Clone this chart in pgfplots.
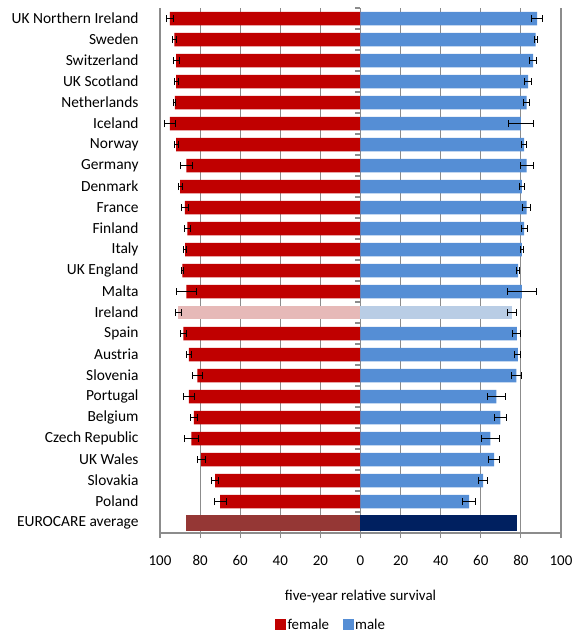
\documentclass[border=0pt]{standalone}
\usepackage{pgfplots}
\pgfplotsset{compat=1.18}
\usepackage{pgfplotstable}
\usepackage{fontspec}
\setmainfont{Carlito}

\definecolor{fem}{HTML}{C00000}
\definecolor{mal}{HTML}{558ED5}
\definecolor{femlight}{HTML}{E6B9B8}
\definecolor{mallight}{HTML}{B9CDE5}
\definecolor{femavg}{HTML}{953735}
\definecolor{malavg}{HTML}{002060}
\definecolor{gridgray}{HTML}{8C8C8C}

% five-year relative survival (%) with half-width of the 95% interval
\pgfplotstableread{
pos female ferr male merr
0  95.1 1.7 88.1 2.8
1  92.8 0.9 87.4 0.8
2  91.9 1.4 86.1 1.7
3  91.9 1.0 83.6 1.7
4  92.6 0.5 82.9 1.5
5  95.1 2.7 80.0 6.2
6  91.9 1.0 81.6 1.2
7  86.8 2.9 82.9 3.3
8  89.9 1.1 80.5 1.4
9  87.6 1.7 82.9 2.0
10 86.3 1.4 81.6 1.5
11 87.5 0.7 80.5 0.8
12 88.8 0.6 78.6 0.8
13 86.8 5.1 80.5 7.2
15 88.3 1.3 78.0 2.0
16 85.6 1.1 78.5 1.5
17 81.3 2.4 77.8 2.7
18 85.6 2.7 67.8 4.3
19 83.1 1.7 69.8 2.8
20 84.4 3.4 64.8 4.3
21 79.5 2.0 66.7 2.7
22 72.5 1.8 61.2 2.2
23 70.0 2.9 54.2 3.2
}\countries

% Ireland, shown in lighter shades
\pgfplotstableread{
pos female ferr male merr
14 90.8 1.3 75.6 2.2
}\ireland

% EUROCARE average
\pgfplotstableread{
pos female male
24 86.8 78.1
}\average

\begin{document}
\begin{tikzpicture}
% page frame around the axis box
\path (-160bp,-99bp) rectangle (414bp,533bp);
\begin{axis}[
  at={(0,0)}, anchor=south west,
  scale only axis,
  width=401bp, height=525bp,
  xmin=-100, xmax=100,
  ymin=-0.5, ymax=24.5,
  y dir=reverse,
  axis x line*=bottom,
  axis y line*=left,
  x axis line style={gridgray, line width=1.2pt},
  y axis line style={gridgray, line width=1.2pt},
  xtick={-100,-80,...,100},
  xticklabels={100,80,60,40,20,0,20,40,60,80,100},
  xtick style={gridgray, line width=1.2pt},
  tick align=outside,
  major tick length=5bp,
  ytick={0,...,24},
  yticklabels={UK Northern Ireland, Sweden, Switzerland, UK Scotland, Netherlands,
    Iceland, Norway, Germany, Denmark, France, Finland, Italy, UK England, Malta,
    Ireland, Spain, Austria, Slovenia, Portugal, Belgium, Czech Republic, UK Wales,
    Slovakia, Poland, EUROCARE average},
  ytick style={draw=none},
  yticklabel style={font=\fontsize{15.5}{17}\selectfont, anchor=east, xshift=-13bp},
  xticklabel style={font=\fontsize{15}{17}\selectfont, yshift=-14bp},
  /pgf/number format/assume math mode=true,
  xlabel={five-year relative survival},
  xlabel style={font=\fontsize{15}{17}\selectfont, yshift=-17bp},
  xbar, bar shift=0pt, bar width=13.5bp,
  error bars/error bar style={black, line width=0.9pt},
  error bars/error mark options={black, line width=0.9pt, mark size=3.5bp, rotate=90},
  legend style={overlay, at={(0.426,-0.1752)}, anchor=center, draw=none, legend columns=2,
    inner sep=0pt, nodes={inner sep=1.5bp},
    font=\fontsize{15}{17}\selectfont,
    /tikz/every even column/.append style={column sep=12bp}},
  legend image code/.code={\fill[#1] (0bp,-5.5bp) rectangle (11bp,5.5bp);},
  clip=false,
]
% vertical grid, drawn first so that the bars cover it
\pgfplotsinvokeforeach{-100,-80,...,100}{
  \draw[gridgray, line width=1.2pt] (axis cs:#1,-0.5) -- (axis cs:#1,24.5);
}
\draw[gridgray, line width=1.2pt] (axis cs:-100,24.5) -- (axis cs:100,24.5);
% female (left) and male (right) bars with error bars
\addplot[fill=fem, draw=none, error bars/.cd, x dir=both, x explicit]
  table[x expr=-\thisrow{female}, y=pos, x error=ferr]{\countries};
\addlegendentry{female}
\addplot[fill=mal, draw=none, error bars/.cd, x dir=both, x explicit]
  table[x=male, y=pos, x error=merr]{\countries};
\addlegendentry{male}
\addplot[fill=femlight, draw=none, forget plot, error bars/.cd, x dir=both, x explicit]
  table[x expr=-\thisrow{female}, y=pos, x error=ferr]{\ireland};
\addplot[fill=mallight, draw=none, forget plot, error bars/.cd, x dir=both, x explicit]
  table[x=male, y=pos, x error=merr]{\ireland};
\addplot[fill=femavg, draw=none, forget plot, bar width=16bp]
  table[x expr=-\thisrow{female}, y=pos]{\average};
\addplot[fill=malavg, draw=none, forget plot, bar width=16bp]
  table[x=male, y=pos]{\average};
% category ticks along the zero line
\pgfplotsinvokeforeach{0,...,24}{
  \draw[gridgray, line width=1.2pt] (axis cs:0,#1-0.5) -- ([xshift=-5bp]axis cs:0,#1-0.5);
}
\end{axis}
\end{tikzpicture}
\end{document}
